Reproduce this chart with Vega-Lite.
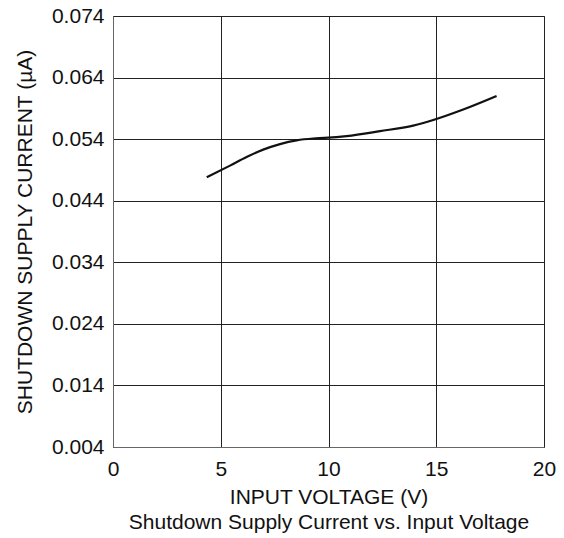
{
  "$schema": "https://vega.github.io/schema/vega-lite/v6.json",
  "width": 431,
  "height": 431,
  "autosize": {"type": "none"},
  "padding": {"left": 113, "top": 16, "right": 20, "bottom": 91},
  "background": "white",
  "config": {
    "view": {"stroke": "#555", "strokeWidth": 1},
    "font": "Liberation Sans",
    "axis": {
      "labelFont": "Liberation Sans",
      "titleFont": "Liberation Sans",
      "labelFontSize": 21,
      "titleFontSize": 21,
      "titleFontWeight": "normal",
      "labelColor": "#111",
      "titleColor": "#111",
      "gridColor": "#222",
      "gridWidth": 1,
      "gridOpacity": 1,
      "domainColor": "#666",
      "ticks": false
    }
  },
  "data": {
    "values": [
      {"v": 4.35, "i": 0.0478},
      {"v": 5.43, "i": 0.0497},
      {"v": 6.2, "i": 0.0511},
      {"v": 6.97, "i": 0.0523},
      {"v": 7.75, "i": 0.0532},
      {"v": 8.52, "i": 0.0538},
      {"v": 9.29, "i": 0.0541},
      {"v": 9.81, "i": 0.0542},
      {"v": 10.84, "i": 0.0545},
      {"v": 12.39, "i": 0.0553},
      {"v": 13.93, "i": 0.0562},
      {"v": 14.86, "i": 0.0571},
      {"v": 16.25, "i": 0.0588},
      {"v": 17.8, "i": 0.061}
    ]
  },
  "mark": {"type": "line", "color": "#111", "strokeWidth": 2.2, "interpolate": "monotone"},
  "encoding": {
    "x": {
      "field": "v",
      "type": "quantitative",
      "scale": {"domain": [0, 20], "nice": false, "zero": false},
      "axis": {
        "values": [0, 5, 10, 15, 20],
        "labelFlush": false,
        "labelPadding": 11,
        "titlePadding": 7,
        "titleLineHeight": 25,
        "title": ["INPUT VOLTAGE (V)", "Shutdown Supply Current vs. Input Voltage"]
      }
    },
    "y": {
      "field": "i",
      "type": "quantitative",
      "scale": {"domain": [0.004, 0.074], "nice": false, "zero": false},
      "axis": {
        "values": [0.004, 0.014, 0.024, 0.034, 0.044, 0.054, 0.064, 0.074],
        "format": ".3f",
        "labelPadding": 9,
        "labelOverlap": false,
        "titlePadding": 16,
        "title": "SHUTDOWN SUPPLY CURRENT (µA)"
      }
    }
  }
}
